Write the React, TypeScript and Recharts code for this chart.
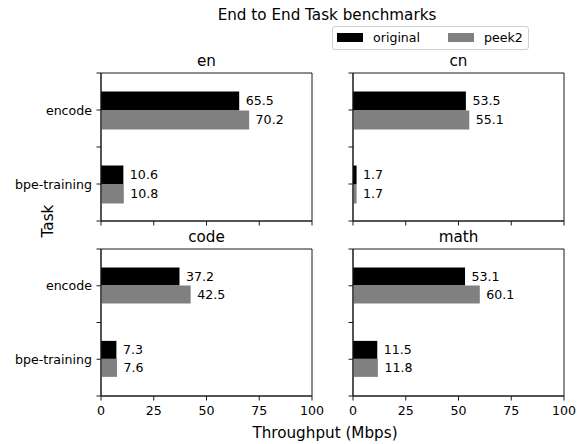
import { Bar, BarChart, LabelList, ReferenceArea, XAxis, YAxis } from "recharts";

const tasks = ["encode", "bpe-training"];
const seriesNames = ["original", "peek2"];

const enOriginal = [65.5, 10.6];
const enPeek2 = [70.2, 10.8];
const cnOriginal = [53.5, 1.7];
const cnPeek2 = [55.1, 1.7];
const codeOriginal = [37.2, 7.3];
const codePeek2 = [42.5, 7.6];
const mathOriginal = [53.1, 11.5];
const mathPeek2 = [60.1, 11.8];

const xTicks = [0, 25, 50, 75, 100];

const FONT = "DejaVu Sans";
const BLACK = "#000000";
const GRAY = "#808080";
const SPINE = "#1a1a1a";

// layout of the 2x2 grid (page pixels)
const PANEL_W = 211;
const COLS = [101, 353];
const ROWS = [
  { top: 73, height: 148 },
  { top: 249, height: 147 },
];
const YW = 100; // room for the y tick labels
const MT = 2;
const MR = 20;
const XH = 30;

const toRows = (orig: number[], peek: number[]) =>
  tasks.map((task, i) => ({ task, original: orig[i], peek2: peek[i] }));

interface PanelProps {
  orig: number[];
  peek: number[];
  col: number;
  row: number;
}

const Panel = ({ orig, peek, col, row }: PanelProps) => {
  const left = COLS[col];
  const { top, height } = ROWS[row];
  const showX = row === 1;
  const showY = col === 0;
  const band = height / tasks.length;

  const renderYTick = (props: any) => {
    const { y, payload, index } = props;
    const x0 = YW;
    const minor =
      index === 0 ? [y - band / 2, y + band / 2] : [y + band / 2];
    return (
      <g>
        <line x1={x0 - 4.5} x2={x0} y1={y} y2={y} stroke={SPINE} />
        {minor.map((m) => (
          <line key={m} x1={x0 - 4.5} x2={x0} y1={m} y2={m} stroke={SPINE} />
        ))}
        {showY && (
          <text
            x={x0 - 9}
            y={y}
            textAnchor="end"
            dominantBaseline="central"
            fontSize={12.6}
            fontFamily={FONT}
            fill={BLACK}
          >
            {payload.value}
          </text>
        )}
      </g>
    );
  };

  return (
    <div
      style={{
        position: "absolute",
        left: left - YW,
        top: top - MT,
      }}
    >
      <BarChart
        width={YW + PANEL_W + MR}
        height={MT + height + XH}
        layout="vertical"
        data={toRows(orig, peek)}
        margin={{ top: MT, right: MR, left: 0, bottom: 0 }}
        barCategoryGap="25%"
        barGap={0}
      >
        <ReferenceArea
          x1={0}
          x2={100}
          fill="none"
          stroke={SPINE}
          strokeWidth={1}
          ifOverflow="visible"
        />
        <XAxis
          type="number"
          domain={[0, 100]}
          ticks={xTicks}
          allowDataOverflow
          height={XH}
          tickSize={4.5}
          tickMargin={6}
          stroke={SPINE}
          tick={{ fontSize: 12.6, fontFamily: FONT, fill: BLACK }}
          tickFormatter={(v: number) => (showX ? String(v) : "")}
        />
        <YAxis
          type="category"
          dataKey="task"
          width={YW}
          stroke={SPINE}
          tickLine={false}
          tick={renderYTick}
          interval={0}
        />
        <Bar dataKey="original" fill={BLACK} isAnimationActive={false}>
          <LabelList
            dataKey="original"
            position="right"
            offset={6.5}
            fill={BLACK}
            fontSize={12.6}
            fontFamily={FONT}
            formatter={(v: any) => Number(v).toFixed(1)}
          />
        </Bar>
        <Bar dataKey="peek2" fill={GRAY} isAnimationActive={false}>
          <LabelList
            dataKey="peek2"
            position="right"
            offset={6.5}
            fill={BLACK}
            fontSize={12.6}
            fontFamily={FONT}
            formatter={(v: any) => Number(v).toFixed(1)}
          />
        </Bar>
      </BarChart>
    </div>
  );
};

const panelTitles = [
  { title: "en", col: 0, row: 0 },
  { title: "cn", col: 1, row: 0 },
  { title: "code", col: 0, row: 1 },
  { title: "math", col: 1, row: 1 },
];

export default function App() {
  return (
    <div
      style={{
        position: "absolute",
        left: 0,
        top: 0,
        width: 582,
        height: 444,
        background: "#ffffff",
        overflow: "hidden",
      }}
    >
      <Panel orig={enOriginal} peek={enPeek2} col={0} row={0} />
      <Panel orig={cnOriginal} peek={cnPeek2} col={1} row={0} />
      <Panel orig={codeOriginal} peek={codePeek2} col={0} row={1} />
      <Panel orig={mathOriginal} peek={mathPeek2} col={1} row={1} />
      <svg
        width={582}
        height={444}
        style={{ position: "absolute", left: 0, top: 0, pointerEvents: "none" }}
        fontFamily={FONT}
      >
        <text x={327} y={20} textAnchor="middle" fontSize={15.2} fill={BLACK}>
          End to End Task benchmarks
        </text>
        {panelTitles.map((p) => (
          <text
            key={p.title}
            x={COLS[p.col] + PANEL_W / 2}
            y={ROWS[p.row].top - 7}
            textAnchor="middle"
            fontSize={15.2}
            fill={BLACK}
          >
            {p.title}
          </text>
        ))}
        <text x={325} y={438} textAnchor="middle" fontSize={15.2} fill={BLACK}>
          Throughput (Mbps)
        </text>
        <text
          transform="translate(52.5,221) rotate(-90)"
          textAnchor="middle"
          fontSize={15.2}
          fill={BLACK}
        >
          Task
        </text>
        <rect
          x={332.5}
          y={26.5}
          width={196}
          height={23}
          rx={2.5}
          fill="#ffffff"
          stroke="#d0d0d0"
        />
        <rect x={337} y={33} width={26} height={9} fill={BLACK} />
        <text x={373} y={41.5} fontSize={12.6} fill={BLACK}>
          {seriesNames[0]}
        </text>
        <rect x={448} y={33} width={26} height={9} fill={GRAY} />
        <text x={484} y={41.5} fontSize={12.6} fill={BLACK}>
          {seriesNames[1]}
        </text>
      </svg>
    </div>
  );
}
